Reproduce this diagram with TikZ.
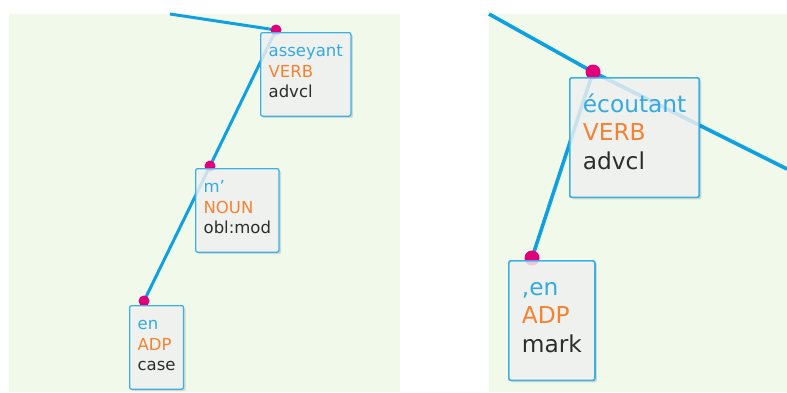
\documentclass[tikz,border=0pt]{standalone}
\usepackage{fontspec}
\newfontfamily\depfont{DejaVu Sans}
\usepackage{xcolor}
\usetikzlibrary{backgrounds,shadows}

\definecolor{panelgreen}{RGB}{241,249,235}
\definecolor{arcblue}{RGB}{14,160,225}
\definecolor{formblue}{RGB}{51,170,225}
\definecolor{posorange}{RGB}{245,130,50}
\definecolor{relgrey}{RGB}{45,45,45}
\definecolor{headpink}{RGB}{226,0,122}
\definecolor{boxgrey}{RGB}{247,247,247}
\definecolor{boxline}{RGB}{60,175,230}

\pgfdeclarelayer{panel}
\pgfdeclarelayer{edges}
\pgfsetlayers{panel,edges,main}

\newcommand{\wordsmall}[3]{\rule{0pt}{24pt}\textcolor{formblue}{#1}\\
  \textcolor{posorange}{#2}\\
  \textcolor{relgrey}{#3}\rule[-18.5pt]{0pt}{18.5pt}}
\newcommand{\wordbig}[3]{\rule{0pt}{34.5pt}\textcolor{formblue}{#1}\\
  \textcolor{posorange}{#2}\\
  \textcolor{relgrey}{#3}\rule[-28pt]{0pt}{28pt}}

\begin{document}
\begin{tikzpicture}[x=1pt,y=-1pt,
  tokbox/.style={draw=boxline, fill=boxgrey, fill opacity=0.8, text opacity=1,
    rounded corners=2pt, anchor=north west, align=left, inner ysep=0pt,
    drop shadow={shadow xshift=2pt, shadow yshift=-2pt, opacity=0.12, fill=black}},
  smallbox/.style={tokbox, line width=1.3pt, inner xsep=8pt,
    font=\depfont\fontsize{16.5}{20.5}\selectfont},
  bigbox/.style={tokbox, line width=1.7pt, inner xsep=13pt,
    font=\depfont\fontsize{23.3}{28.5}\selectfont},
  headdot/.style={circle, fill=headpink, inner sep=0pt, minimum size=11pt},
  bigdot/.style={headdot, minimum size=15pt},
  arc/.style={draw=arcblue, line width=3pt},
  bigarc/.style={draw=arcblue, line width=3.6pt}]
\useasboundingbox (0,0) rectangle (787,392);

\begin{pgfonlayer}{panel}
\fill[panelgreen] (9,14) rectangle (400,392);
\fill[panelgreen] (489,14) rectangle (787,392);
\end{pgfonlayer}

% left panel
\coordinate (l-top) at (170,14);
\node[headdot] (h-asseyant) at (276,30) {};
\node[headdot] (h-m) at (210,166) {};
\node[headdot] (h-en) at (144,301) {};

\node[smallbox] (w-asseyant) at (260,32) {\wordsmall{asseyant}{VERB}{advcl}};
\node[smallbox] (w-m) at (195,168) {\wordsmall{m’}{NOUN}{obl:mod}};
\node[smallbox] (w-en) at (129,305) {\wordsmall{en}{ADP}{case}};

\begin{pgfonlayer}{edges}
\draw[arc] (l-top) -- (h-asseyant.center);
\draw[arc] (h-asseyant.center) -- (h-m.center);
\draw[arc] (h-m.center) -- (h-en.center);
\end{pgfonlayer}

% right panel
\coordinate (r-top) at (489,14);
\coordinate (r-out) at (787,169);
\node[bigdot] (h-ecoutant) at (593,72) {};
\node[bigdot] (h-en2) at (532,258) {};

\node[bigbox] (w-ecoutant) at (569,77) {\wordbig{écoutant}{VERB}{advcl}};
\node[bigbox] (w-en2) at (508,260) {\wordbig{,en}{ADP}{mark}};

\begin{pgfonlayer}{edges}
\draw[bigarc] (r-top) -- (h-ecoutant.center);
\draw[bigarc] (h-ecoutant.center) -- (r-out);
\draw[bigarc] (h-ecoutant.center) -- (h-en2.center);
\end{pgfonlayer}

\end{tikzpicture}
\end{document}
